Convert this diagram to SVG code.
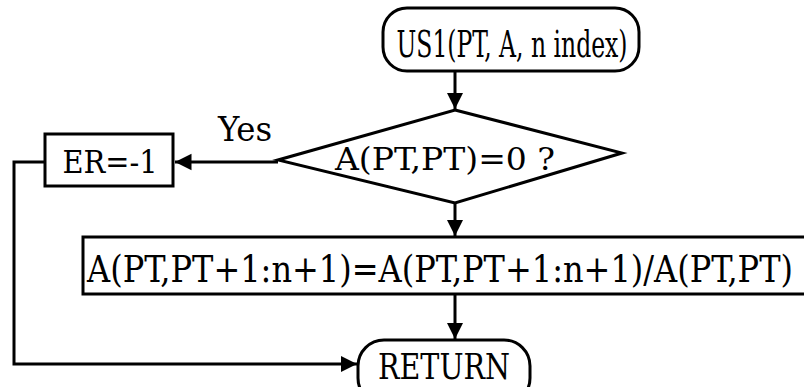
<svg xmlns="http://www.w3.org/2000/svg" width="804" height="387" viewBox="0 0 804 387">
  <defs>
    <marker id="arrow" viewBox="0 0 10 10" refX="10" refY="5" markerWidth="5.5" markerHeight="6" orient="auto" markerUnits="strokeWidth">
      <path d="M0,0 L10,5 L0,10 Z" fill="#000"/>
    </marker>
  </defs>
  <style>
    .shape { fill: #fff; stroke: #000; stroke-width: 3; }
    .line { fill: none; stroke: #000; stroke-width: 3; }
    .label { font-family: "DejaVu Serif Condensed", "DejaVu Serif", "Liberation Serif", serif; fill: #000; }
  </style>
  <rect width="804" height="387" fill="#fff"/>

  <g id="connectors">
    <path class="line" d="M455,71 L455,109" marker-end="url(#arrow)"/>
    <path class="line" d="M278,162 L175,162" marker-end="url(#arrow)"/>
    <path class="line" d="M455,203 L455,236" marker-end="url(#arrow)"/>
    <path class="line" d="M455,294 L455,339" marker-end="url(#arrow)"/>
    <path class="line" d="M45,162 L14,162 L14,364 L357,364" marker-end="url(#arrow)"/>
    <text class="label" x="245" y="141" font-size="34" text-anchor="middle" textLength="54" lengthAdjust="spacingAndGlyphs">Yes</text>
  </g>

  <g id="start">
    <rect class="shape" x="383" y="8" width="256" height="63" rx="24"/>
    <text class="label" x="512" y="57" font-size="37" text-anchor="middle" textLength="231" lengthAdjust="spacingAndGlyphs">US1(PT, A, n index)</text>
  </g>

  <g id="decision">
    <polygon class="shape" points="455,110 622,153 455,203 278,160"/>
    <text class="label" x="445" y="170" font-size="31" text-anchor="middle" textLength="220" lengthAdjust="spacingAndGlyphs">A(PT,PT)=0 ?</text>
  </g>

  <g id="error">
    <rect class="shape" x="45" y="134" width="128" height="52"/>
    <text class="label" x="110" y="173" font-size="32" text-anchor="middle" textLength="95" lengthAdjust="spacingAndGlyphs">ER=-1</text>
  </g>

  <g id="divide">
    <rect class="shape" x="83" y="237" width="724" height="57"/>
    <text class="label" x="87" y="282" font-size="38" textLength="706" lengthAdjust="spacingAndGlyphs">A(PT,PT+1:n+1)=A(PT,PT+1:n+1)/A(PT,PT)</text>
  </g>

  <g id="return">
    <rect class="shape" x="358" y="340" width="172" height="64" rx="26"/>
    <text class="label" x="444" y="379" font-size="36" text-anchor="middle" textLength="132" lengthAdjust="spacingAndGlyphs">RETURN</text>
  </g>
</svg>
